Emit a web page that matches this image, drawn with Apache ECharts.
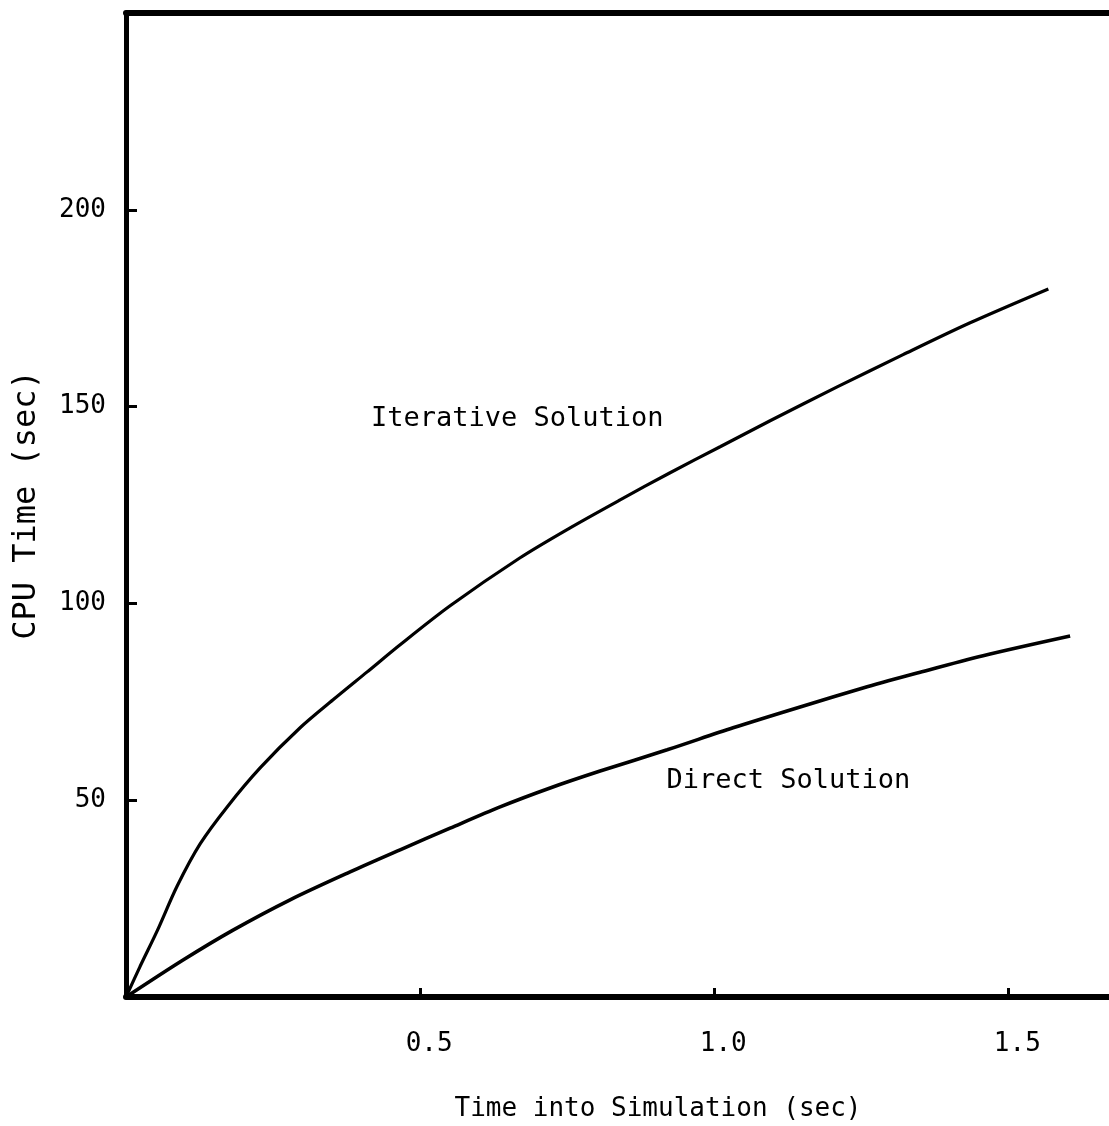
<!DOCTYPE html>
<html>
<head>
<meta charset="utf-8">
<script src="https://cdn.jsdelivr.net/npm/echarts@6/dist/echarts.min.js"></script>
<style>
html,body{margin:0;padding:0;background:#ffffff;}
#chart{width:1109px;height:1126px;}
</style>
</head>
<body>
<div id="chart"></div>
<script>
// ---- data ----
const xTicks = [0.5, 1.0, 1.5];
const yTicks = [50, 100, 150, 200];

const iterTime = [0, 0.024, 0.053, 0.087, 0.126, 0.172, 0.228, 0.296, 0.352, 0.410, 0.466, 0.551, 0.670, 0.755, 0.840, 0.925, 1.010, 1.095, 1.209, 1.321, 1.435, 1.568];
const iterCpu  = [0, 7.8, 16.8, 28.2, 38.9, 48.3, 58.2, 68.4, 75.5, 82.6, 89.5, 99.4, 111.6, 119.2, 126.3, 133.2, 139.8, 146.4, 155.0, 163.2, 171.3, 179.9];

const directTime = [0, 0.097, 0.182, 0.279, 0.381, 0.466, 0.551, 0.636, 0.721, 0.806, 0.920, 1.032, 1.146, 1.260, 1.345, 1.457, 1.605];
const directCpu  = [0, 9.4, 17.0, 24.7, 31.8, 37.4, 42.9, 48.3, 53.1, 57.4, 62.8, 68.4, 73.7, 78.8, 82.3, 86.7, 91.7];

const annotationText = ['Iterative Solution', 'Direct Solution'];
const annotationTime = [0.665, 1.126];
const annotationCpu  = [146.9, 54.9];

const xName = 'Time into Simulation (sec)';
const yName = 'CPU Time (sec)';

// ---- build chart ----
const FONT = "'DejaVu Sans Mono', 'Liberation Mono', monospace";
const zip = (a, b) => a.map((v, i) => [v, b[i]]);

const chart = echarts.init(document.getElementById('chart'), null, {renderer: 'canvas'});

const option = {
  backgroundColor: '#ffffff',
  animation: false,
  grid: {left: 126, top: 13, bottom: 129, right: -17, containLabel: false, outerBoundsMode: 'none'},
  xAxis: [
    {
      type: 'value', min: 0, max: 1.7, interval: 0.5, position: 'bottom',
      axisLine: {show: true, onZero: false, lineStyle: {color: '#000', width: 6}},
      axisTick: {show: true, inside: true, length: 9, lineStyle: {color: '#000', width: 3}},
      axisLabel: {show: true, customValues: xTicks, margin: 34, color: '#000', fontFamily: FONT, fontSize: 26,
        padding: [0, 0, 0, 18], formatter: v => v.toFixed(1)},
      splitLine: {show: false},
      name: xName, nameLocation: 'middle', nameGap: 99,
      nameTextStyle: {color: '#000', fontFamily: FONT, fontSize: 26, padding: [0, 0, 0, 64]}
    },
    {
      type: 'value', min: 0, max: 1.7, position: 'top',
      axisLine: {show: true, onZero: false, lineStyle: {color: '#000', width: 6}},
      axisTick: {show: false}, axisLabel: {show: false}, splitLine: {show: false}
    }
  ],
  yAxis: {
    type: 'value', min: 0, max: 250, interval: 50,
    axisLine: {show: true, onZero: false, lineStyle: {color: '#000', width: 5}},
    axisTick: {show: true, inside: true, length: 11, lineStyle: {color: '#000', width: 3}},
    axisLabel: {show: true, customValues: yTicks, margin: 20, color: '#000', fontFamily: FONT, fontSize: 26},
    splitLine: {show: false},
    name: yName, nameLocation: 'middle', nameRotate: 90, nameGap: 83,
    nameTextStyle: {color: '#000', fontFamily: FONT, fontSize: 32}
  },
  series: [
    {
      name: 'Iterative Solution', type: 'line', xAxisIndex: 0,
      data: zip(iterTime, iterCpu), smooth: 0.3,
      showSymbol: false, symbol: 'none',
      lineStyle: {color: '#000', width: 3.2}
    },
    {
      name: 'Direct Solution', type: 'line', xAxisIndex: 0,
      data: zip(directTime, directCpu), smooth: 0.3,
      showSymbol: false, symbol: 'none',
      lineStyle: {color: '#000', width: 3.6}
    },
    {
      name: 'labels', type: 'scatter', xAxisIndex: 0,
      symbol: 'circle', symbolSize: 0, itemStyle: {color: '#000'},
      data: annotationText.map((t, i) => ({name: t, value: [annotationTime[i], annotationCpu[i]]})),
      label: {show: true, position: [0, 0], align: 'center', verticalAlign: 'middle', formatter: '{b}',
        color: '#000', opacity: 1, textBorderWidth: 0, fontFamily: FONT, fontSize: 27},
      emphasis: {disabled: true},
      silent: true
    }
  ]
};
chart.setOption(option);
</script>
</body>
</html>
